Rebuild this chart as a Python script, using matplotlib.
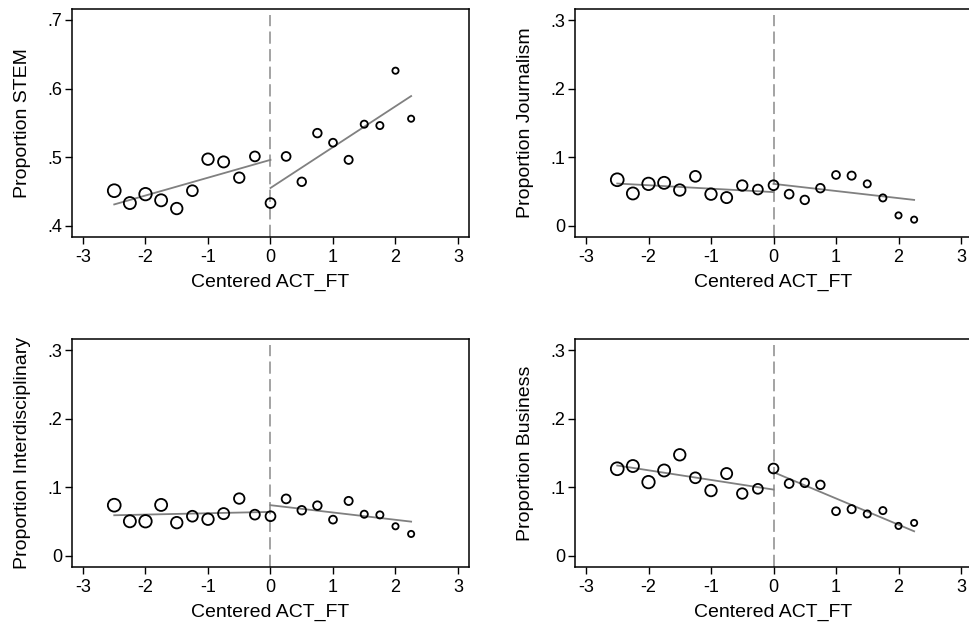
import numpy as np
import matplotlib
matplotlib.use("Agg")
import matplotlib.pyplot as plt

plt.rcParams['font.family'] = ['Liberation Sans', 'DejaVu Sans']

# bin centres of centered ACT_FT
act_bins = [-2.5, -2.25, -2.0, -1.75, -1.5, -1.25, -1.0, -0.75, -0.5, -0.25,
            0.0, 0.25, 0.5, 0.75, 1.0, 1.25, 1.5, 1.75, 2.0, 2.25]
# relative number of students per bin (marker area weight)
bin_n = [170, 150, 160, 150, 137, 121, 137, 128, 114, 100,
         100, 81, 76, 76, 64, 69, 53, 53, 40, 40]

prop_stem = [.451, .433, .446, .437, .425, .451, .497, .493, .470, .501,
             .433, .501, .464, .535, .521, .496, .548, .546, .626, .556]
prop_journalism = [.067, .047, .061, .0625, .052, .072, .046, .041, .0586, .0527,
                   .059, .046, .0376, .0547, .074, .073, .061, .0405, .015, .0088]
prop_interdisc = [.0738, .0503, .0503, .0742, .0483, .0577, .0533, .0615, .0835, .060,
                  .0577, .083, .0664, .0732, .0527, .080, .0606, .0596, .043, .0318]
prop_business = [.127, .131, .1075, .1245, .1474, .1138, .0952, .120, .0908, .0977,
                 .1274, .1054, .1064, .1035, .065, .068, .061, .0659, .0435, .0479]

# fitted lines: (x0, x1) below and above the cutoff
fit_x_left = [-2.5, 0.0]
fit_x_right = [0.0, 2.25]
fit_stem = ([.431, .496], [.455, .589])
fit_journalism = ([.0615, .049], [.061, .0376])
fit_interdisc = ([.0591, .064], [.0738, .0498])
fit_business = ([.1318, .0966], [.122, .0357])

panels = [
    ("Proportion STEM", prop_stem, fit_stem,
     [0.0743, 0.6202, 0.4097, 0.3654], (0.3835, 0.716),
     [.4, .5, .6, .7], ['.4', '.5', '.6', '.7']),
    ("Proportion Journalism", prop_journalism, fit_journalism,
     [0.5934, 0.6202, 0.4097, 0.3654], (-0.0165, 0.3161),
     [0, .1, .2, .3], ['0', '.1', '.2', '.3']),
    ("Proportion Interdisciplinary", prop_interdisc, fit_interdisc,
     [0.0743, 0.0913, 0.4097, 0.3650], (-0.0165, 0.3161),
     [0, .1, .2, .3], ['0', '.1', '.2', '.3']),
    ("Proportion Business", prop_business, fit_business,
     [0.5934, 0.0913, 0.4097, 0.3650], (-0.0165, 0.3161),
     [0, .1, .2, .3], ['0', '.1', '.2', '.3']),
]

fig = plt.figure(figsize=(9.69, 6.24), dpi=100)

for ylab, vals, fit, pos, ylim, yt, ytl in panels:
    ax = fig.add_axes(pos)
    ax.axvline(0, color='#8a8a8a', lw=1.1, ls=(0, (8, 3.5)), ymax=0.975, zorder=1)
    sizes = np.array(bin_n) * 0.5
    ax.scatter(act_bins, vals, s=sizes, facecolors='none', edgecolors='black',
               linewidths=1.3, zorder=3)
    ax.plot(fit_x_left, fit[0], color='#808080', lw=1.3, zorder=2)
    ax.plot(fit_x_right, fit[1], color='#808080', lw=1.3, zorder=2)
    ax.set_xlim(-3.176, 3.176)
    ax.set_ylim(*ylim)
    ax.set_xticks([-3, -2, -1, 0, 1, 2, 3])
    ax.set_xticklabels(['-3', '-2', '-1', '0', '1', '2', '3'])
    ax.set_yticks(yt)
    ax.set_yticklabels(ytl)
    ax.tick_params(direction='out', length=5, width=1, labelsize=13, pad=2,
                   colors='black')
    ax.tick_params(axis='x', pad=3.5)
    for sp in ax.spines.values():
        sp.set_linewidth(1.1)
        sp.set_color('black')
    ax.set_xlabel("Centered ACT_FT", fontsize=14, labelpad=6)
    ax.set_ylabel(ylab, fontsize=14, labelpad=12)

fig.savefig("out.png", dpi=100)
